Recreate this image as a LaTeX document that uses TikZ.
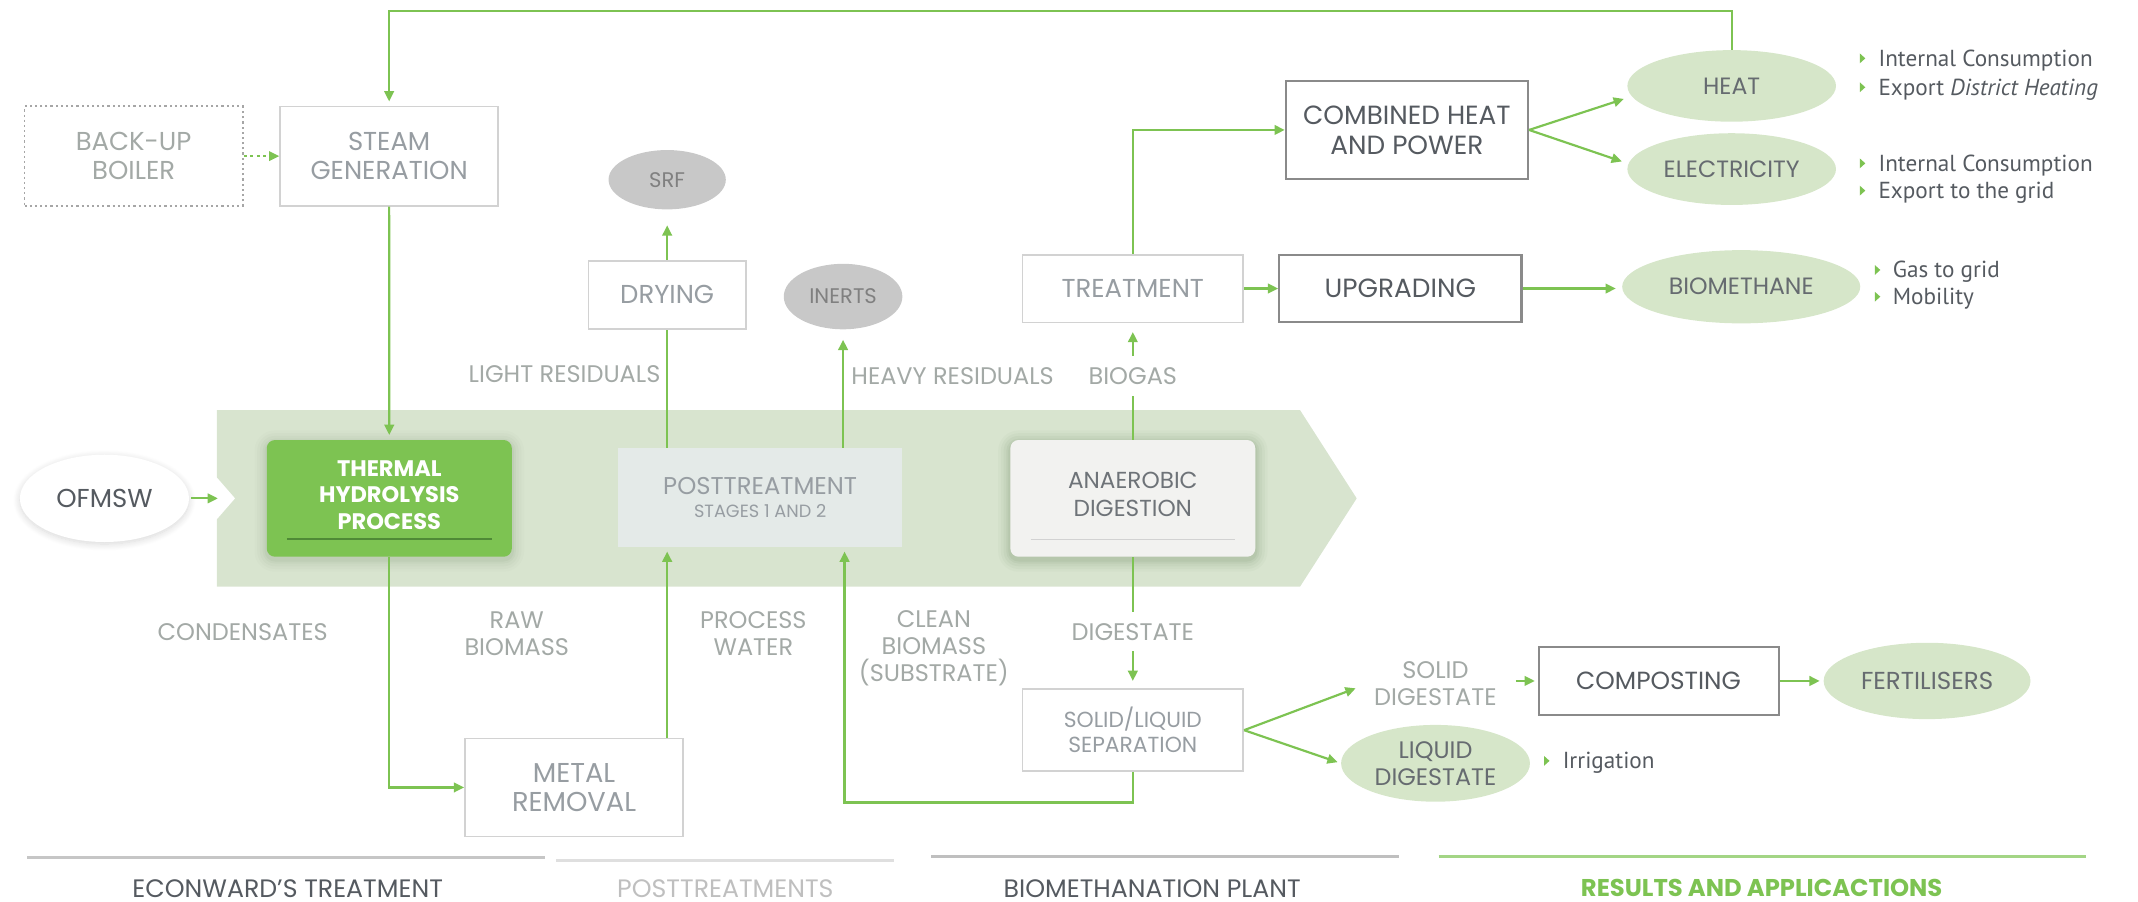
\documentclass[tikz,border=0pt]{standalone}
\usepackage{fontspec}
\setmainfont{Poppins}
\newfontfamily\ptsans{PT Sans}
\usetikzlibrary{arrows.meta,shapes.geometric,calc,shadows.blur}
\definecolor{lgreen}{HTML}{7DC352}
\definecolor{bandc}{HTML}{D8E4CF}
\definecolor{pale}{HTML}{D6E6C9}
\definecolor{srfgray}{HTML}{C8C8C8}
\definecolor{boxline}{HTML}{D2D2D2}
\definecolor{darkline}{HTML}{8A8A8A}
\definecolor{txtlight}{HTML}{979DA2}
\definecolor{txtlab}{HTML}{A3A9A6}
\definecolor{txtdark}{HTML}{555A60}
\definecolor{postfill}{HTML}{E4EAE8}
\definecolor{adfill}{HTML}{F2F2F0}
\definecolor{thpline}{HTML}{4F8A36}
\definecolor{greenrule}{HTML}{A3D585}
\definecolor{shadowc}{HTML}{5E7A52}
\begin{document}
\begin{tikzpicture}[x=1pt,y=-1pt,
 every node/.style={inner sep=0pt, align=center},
 lbox/.style={draw=boxline, line width=1.2pt, fill=white, text=txtlight, font=\fontsize{19}{21}\selectfont},
 dbox/.style={draw=darkline, line width=1.6pt, fill=white, text=txtdark, font=\fontsize{19.3}{22}\selectfont},
 pell/.style={ellipse, fill=pale, text=txtdark!90, font=\fontsize{17.3}{20}\selectfont},
 gell/.style={ellipse, fill=srfgray, text=gray, font=\fontsize{15.5}{16}\selectfont},
 lab/.style={text=txtlab, font=\fontsize{17.6}{19.6}\selectfont},
 gline/.style={draw=lgreen, line width=1.6pt},
 arr/.style={gline, -{Triangle[length=7.5pt,width=7pt]}},
 bulletpt/.pic={\fill[lgreen] (0,-3.6) -- (4,0) -- (0,3.6) -- cycle;},
 note/.style={anchor=base west, text=txtdark, font=\ptsans\fontsize{17}{20}\selectfont},
 softshadow/.style={blur shadow={shadow xshift=0pt, shadow yshift=-1.5pt, shadow blur radius=5pt, shadow blur steps=12, shadow opacity=16}},
 sect/.style={font=\fontsize{18.5}{19}\selectfont},
]
\path[use as bounding box] (0,0) rectangle (1568,661.5);

% main band
\fill[bandc] (159,300.7) -- (953.4,300.7) -- (995,365.5) -- (953.4,430.3) -- (159,430.3) -- (159,381) -- (172.5,365.5) -- (159,350) -- cycle;
\coordinate (bandL) at (159.8,365.5);

% soft shadows of the two process boxes
\foreach \s/\o in {9/0.025,7/0.03,5/0.04,3/0.05,1.5/0.06}{
  \fill[shadowc, opacity=\o, rounded corners=6pt+\s pt] (195.65-\s,324.7-\s) rectangle (375.35+\s,410.3+\s);
  \fill[shadowc, opacity=\o*1.4, rounded corners=6pt+\s pt] (741-\s,324.7-\s) rectangle (920.6+\s,410.3+\s);
}

% nodes
\node[draw=gray!70, dash pattern=on 1.6pt off 2.2pt, line width=1.4pt, text=txtlab, font=\fontsize{19}{21}\selectfont, minimum width=160, minimum height=73] (backup) at (98,114.5) {BACK-UP\\BOILER};
\node[lbox, minimum width=160, minimum height=73] (steam) at (285.4,114.5) {STEAM\\GENERATION};
\node[ellipse, fill=white, minimum width=124, minimum height=64, softshadow, text=txtdark, font=\fontsize{19}{21}\selectfont] (ofmsw) at (76.6,365.5) {OFMSW};
\node[rounded corners=6pt, fill=lgreen, minimum width=179.7, minimum height=85.6, text=white, font=\bfseries\fontsize{16.5}{19.6}\selectfont, text depth=5pt] (thp) at (285.5,365.5) {THERMAL\\HYDROLYSIS\\PROCESS};
\draw[thpline, line width=1.3pt] ($(thp.south west)+(15,-13)$) -- ($(thp.south east)+(-15,-13)$);
\node[fill=postfill, minimum width=208, minimum height=72.6, text=txtlight, font=\fontsize{13}{17.2}\selectfont] (post) at (557.5,365) {{\fontsize{17.8}{17.2}\selectfont POSTTREATMENT}\\STAGES 1 AND 2};
\node[rounded corners=6pt, fill=adfill, minimum width=179.6, minimum height=85.6, text=txtdark!85, font=\fontsize{17}{20.8}\selectfont, text depth=6pt] (ad) at (830.8,365.5) {ANAEROBIC\\DIGESTION};
\draw[boxline, line width=1.1pt] ($(ad.south west)+(15,-13)$) -- ($(ad.south east)+(-15,-13)$);

\node[lbox, minimum width=115.2, minimum height=50] (drying) at (489.3,216.2) {DRYING};
\node[gell, minimum width=86, minimum height=43.5] (srf) at (489.3,131.8) {SRF};
\node[gell, minimum width=87, minimum height=48] (inerts) at (618.3,217.5) {INERTS};
\node[lbox, minimum width=162, minimum height=49.6] (treat) at (830.8,211.6) {TREATMENT};
\node[dbox, minimum width=177.6, minimum height=49] (upg) at (1027,211.6) {UPGRADING};
\node[dbox, minimum width=177.6, minimum height=72.3] (chp) at (1031.8,95.3) {COMBINED HEAT\\AND POWER};
\node[pell, minimum width=153, minimum height=52.5] (heat) at (1270,63) {HEAT};
\node[pell, minimum width=153, minimum height=52.6] (elec) at (1270,124) {ELECTRICITY};
\node[pell, minimum width=174.6, minimum height=53.7] (biometh) at (1277,210.3) {BIOMETHANE};
\node[lbox, minimum width=160, minimum height=72, font=\fontsize{20}{21.5}\selectfont] (metal) at (421,577.5) {METAL\\REMOVAL};
\node[lbox, minimum width=162, minimum height=60, font=\fontsize{16}{18.4}\selectfont] (sep) at (830.8,535.5) {SOLID/LIQUID\\SEPARATION};
\node[pell, minimum width=138.5, minimum height=56.3, font=\fontsize{17.5}{20}\selectfont] (liq) at (1052.8,559.8) {LIQUID\\DIGESTATE};
\node[dbox, minimum width=176, minimum height=50, font=\fontsize{18.2}{22}\selectfont] (comp) at (1216.4,499.4) {COMPOSTING};
\node[pell, minimum width=151.7, minimum height=56, font=\fontsize{18}{20}\selectfont] (fert) at (1413.3,499.4) {FERTILISERS};

% connectors
\coordinate (topy) at (0,7.8);
\draw[arr, shorten >=3pt] (heat.north) -- (heat.north |- topy) -| (steam.north);
\draw[arr, dash pattern=on 2.2pt off 2.6pt] (backup.east) -- (steam.west);
\draw[arr, shorten >=3.5pt] (steam.south) -- (thp.north);
\draw[arr, shorten <=1.5pt] (ofmsw.east) -- (bandL);
\draw[arr] (thp.south) |- (metal.west);
\draw[arr, shorten >=3pt] (metal.north -| drying.south) -- (post.south -| drying.south);
\draw[gline] (post.north -| drying.south) -- (drying.south);
\draw[arr, shorten >=11.5pt] (drying.north) -- (srf.south);
\draw[arr, shorten >=7.5pt] (post.north -| inerts.south) -- (inerts.south);
\coordinate (cb) at (619.4,588.5);
\draw[arr, shorten >=3pt] (sep.south) |- (cb) -- (post.south -| cb);
\draw[arr, shorten >=6.5pt] (ad.north) -- (treat.south);
\draw[arr, shorten >=5.5pt] (ad.south) -- (sep.north);
\draw[arr] (treat.north) |- (chp.west);
\draw[arr] (treat.east) -- (upg.west);
\draw[arr, shorten >=6pt] (chp.east) -- (heat.186);
\draw[arr, shorten >=5pt] (chp.east) -- (elec.177);
\draw[arr, shorten >=4.5pt] (upg.east) -- (upg.east -| biometh.west);
\coordinate (sdtip) at (994.2,504.8);
\draw[arr] (sep.east) -- (sdtip);
\draw[arr, shorten >=2.5pt] (sep.east) -- (liq.west);
\draw[arr, shorten >=2.7pt] (comp.east) -- (fert.west);

% labels
\node[lab, fill=white, inner xsep=3pt, inner ysep=8.5pt] (biogas) at (830.8,275.8) {BIOGAS};
\node[lab, fill=white, inner xsep=3pt, inner ysep=8pt] (digest) at (830.8,463.3) {DIGESTATE};
\node[lab, anchor=east] (lightres) at (484.5,274.5) {LIGHT RESIDUALS};
\node[lab, anchor=west] (heavyres) at (624.2,276) {HEAVY RESIDUALS};
\node[lab] (cond) at (178,463.3) {CONDENSATES};
\node[lab] (raw) at (379,464.5) {RAW\\BIOMASS};
\node[lab] (pw) at (552.5,464.5) {PROCESS\\WATER};
\node[lab] (clean) at (684.9,475.5) {CLEAN\\BIOMASS\\(SUBSTRATE)};
\node[lab] (soliddig) at (1052.7,501.2) {SOLID\\DIGESTATE};
\draw[arr, shorten <=14pt, shorten >=2pt] (soliddig.east |- comp.west) -- (comp.west);

% notes
\pic at (1364,42.8) {bulletpt};
\node[note] (n1) at (1377.5,48.6) {Internal Consumption};
\pic at (1364,64) {bulletpt};
\node[note] (n2) at (1377.5,69.8) {Export \textit{District Heating}};
\pic at (1364,119.8) {bulletpt};
\node[note] (n3) at (1377.5,125.6) {Internal Consumption};
\pic at (1364,139.8) {bulletpt};
\node[note] (n4) at (1377.5,145.6) {Export to the grid};
\pic at (1375,198) {bulletpt};
\node[note] (n5) at (1388,203.6) {Gas to grid};
\pic at (1375,217.6) {bulletpt};
\node[note] (n6) at (1388,223.2) {Mobility};
\pic at (1132.4,558) {bulletpt};
\node[note] (n7) at (1145.9,563.6) {Irrigation};

% bottom sections
\draw[line width=2.5pt, draw=gray!45] (20,629) -- (400,629);
\draw[line width=2pt, draw=gray!25] (408,631) -- (656,631);
\draw[line width=2.5pt, draw=gray!50] (683,628) -- (1026,628);
\draw[line width=2.5pt, draw=greenrule] (1055,628) -- (1530,628);
\node[sect, text=txtdark] (s1) at (211,651.5) {ECONWARD'S TREATMENT};
\node[sect, text=gray!50] (s2) at (532,651.5) {POSTTREATMENTS};
\node[sect, text=txtdark] (s3) at (845,651.5) {BIOMETHANATION PLANT};
\node[sect, text=lgreen, font=\bfseries\fontsize{17.8}{19}\selectfont] (s4) at (1292,651.5) {RESULTS AND APPLICACTIONS};
\end{tikzpicture}
\end{document}
